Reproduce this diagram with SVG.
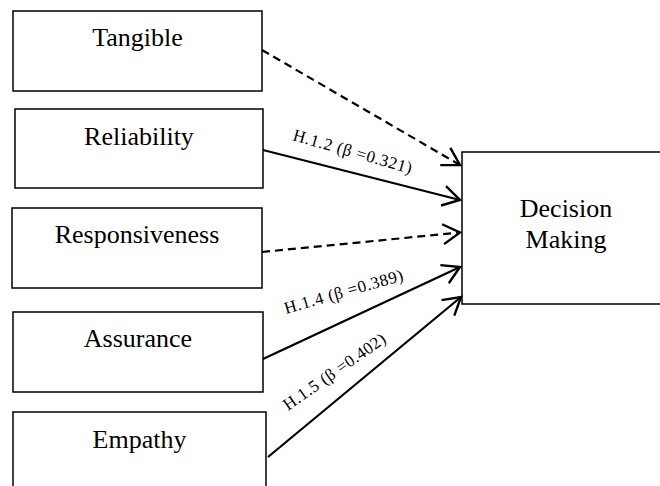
<svg xmlns="http://www.w3.org/2000/svg" width="660" height="486" viewBox="0 0 660 486">
<style>
.box{fill:#fff;stroke:#000;stroke-width:1.5}
.t{font-family:"Liberation Serif","Times New Roman",serif;font-size:26px;fill:#000;text-anchor:middle}
.lbl{font-family:"Liberation Serif","Times New Roman",serif;font-size:17px;fill:#000}
.c{stroke:#000;stroke-width:2.2;fill:none;marker-end:url(#ah)}
.d{stroke-dasharray:8 5}
</style>
<defs>
<marker id="ah" markerUnits="userSpaceOnUse" viewBox="-22 -14 26 28" refX="0" refY="0" markerWidth="26" markerHeight="28" orient="auto" overflow="visible">
<path d="M-17,-10 L0,0 L-17,10" fill="none" stroke="#000" stroke-width="2.4" stroke-dasharray="none"/>
</marker>
</defs>
<rect x="0" y="0" width="660" height="486" fill="#fff"/>
<g id="tangible"><rect class="box" x="13" y="11" width="249" height="80"/><text class="t" x="137.5" y="46">Tangible</text></g>
<g id="reliability"><rect class="box" x="15" y="109" width="248" height="79"/><text class="t" x="139" y="145">Reliability</text></g>
<g id="responsiveness"><rect class="box" x="12" y="208" width="250" height="80"/><text class="t" x="137" y="243">Responsiveness</text></g>
<g id="assurance"><rect class="box" x="13" y="312" width="250" height="80"/><text class="t" x="138" y="347">Assurance</text></g>
<g id="empathy"><rect class="box" x="13" y="412" width="253" height="90"/><text class="t" x="139.5" y="448">Empathy</text></g>
<g id="decision"><rect class="box" x="462" y="152" width="210" height="152"/><text class="t" x="566" y="217">Decision</text><text class="t" x="566" y="248">Making</text></g>
<g id="connectors">
<line class="c d" x1="262" y1="50" x2="460" y2="165"/>
<line class="c" x1="263" y1="150" x2="460" y2="200"/>
<line class="c d" x1="262" y1="252" x2="460" y2="232.5"/>
<line class="c" x1="263" y1="359" x2="460" y2="267"/>
<line class="c" x1="268" y1="457" x2="461" y2="297"/>
<text class="lbl" transform="translate(292,140) rotate(16)" textLength="123" lengthAdjust="spacing">H.1.2 (β =0.321)</text>
<text class="lbl" transform="translate(286,314) rotate(-16)" textLength="123" lengthAdjust="spacing">H.1.4 (β =0.389)</text>
<text class="lbl" transform="translate(288,411) rotate(-35)" textLength="121" lengthAdjust="spacing">H.1.5 (β =0.402)</text>
</g>
</svg>
